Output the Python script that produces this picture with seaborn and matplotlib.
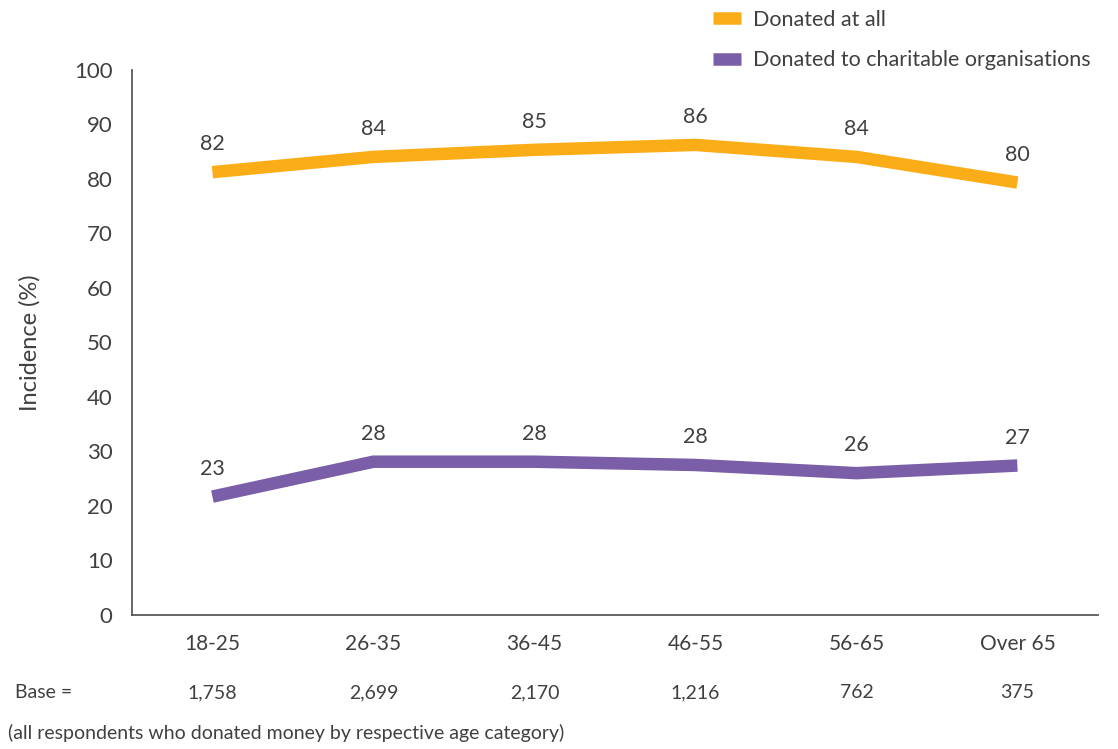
import pandas as pd
import matplotlib.pyplot as plt
import seaborn as sns
from matplotlib.lines import Line2D

# data
age_groups = ['18-25', '26-35', '36-45', '46-55', '56-65', 'Over 65']
donated_all = [81.2, 84.0, 85.3, 86.2, 84.0, 79.3]
donated_charity = [21.7, 28.1, 28.1, 27.5, 26.0, 27.4]
donated_all_labels = [82, 84, 85, 86, 84, 80]
donated_charity_labels = [23, 28, 28, 28, 26, 27]
base_counts = ['1,758', '2,699', '2,170', '1,216', '762', '375']

series_names = ['Donated at all', 'Donated to charitable organisations']
colors = ['#FBAD18', '#7A5EA8']
text_col = '#404040'

df = pd.DataFrame({
    'pos': list(range(len(age_groups))) * 2,
    'value': donated_all + donated_charity,
    'series': [series_names[0]] * 6 + [series_names[1]] * 6,
})

sns.set_style('white')
plt.rcParams['font.family'] = ['Lato', 'DejaVu Sans']

fig = plt.figure(figsize=(11.18, 7.49), dpi=100)
ax = fig.add_axes([0.118, 0.179, 0.864, 0.728])

sns.lineplot(data=df, x='pos', y='value', hue='series', palette=colors,
             linewidth=9, legend=False, ax=ax)
for ln in ax.get_lines():
    ln.set_solid_capstyle('butt')
    ln.set_solid_joinstyle('miter')

for vals, labs in [(donated_all, donated_all_labels), (donated_charity, donated_charity_labels)]:
    for i, (v, lab) in enumerate(zip(vals, labs)):
        ax.annotate(str(lab), (i, v), xytext=(0, 20), textcoords='offset points',
                    ha='center', va='center', fontsize=15.5, color=text_col)

ax.set_xlim(-0.5, len(age_groups) - 0.5)
ax.set_ylim(0, 100)
ax.set_yticks(range(0, 101, 10))
ax.set_xticks(range(len(age_groups)))
ax.set_xticklabels(age_groups)
ax.set_xticks([i - 0.5 for i in range(len(age_groups) + 1)], minor=True)
ax.tick_params(axis='x', which='major', length=0, pad=14, labelsize=15, labelcolor=text_col)
ax.tick_params(axis='x', which='minor', direction='in', length=14, width=1.2, color='#595959')
ax.tick_params(axis='y', length=0, pad=14, labelsize=16, labelcolor=text_col)
ax.set_xlabel('')
ax.set_ylabel('Incidence (%)', fontsize=17, color=text_col, labelpad=24)

for s in ['top', 'right']:
    ax.spines[s].set_visible(False)
for s in ['left', 'bottom']:
    ax.spines[s].set_color('#595959')
    ax.spines[s].set_linewidth(1.3)

# base row and footnote
fig.text(15 / 1118, 1 - 693 / 749, 'Base =', fontsize=14, color=text_col, va='center')
for i, b in enumerate(base_counts):
    ax.annotate(b, (i, 0), xycoords=('data', 'axes fraction'), xytext=(0, -56),
                textcoords='offset points', ha='center', va='center',
                fontsize=14, color=text_col)
fig.text(8 / 1118, 1 - 733 / 749,
         '(all respondents who donated money by respective age category)',
         fontsize=14, color=text_col, va='center')

handles = [Line2D([0], [0], color=c, lw=9, solid_capstyle='butt') for c in colors]
fig.legend(handles, series_names, loc='upper left', bbox_to_anchor=(0.62, 1.013),
           frameon=False, fontsize=15.5, labelcolor=text_col, handlelength=1.3,
           handletextpad=0.6, labelspacing=0.95)

fig.savefig('out.png', dpi=100)
